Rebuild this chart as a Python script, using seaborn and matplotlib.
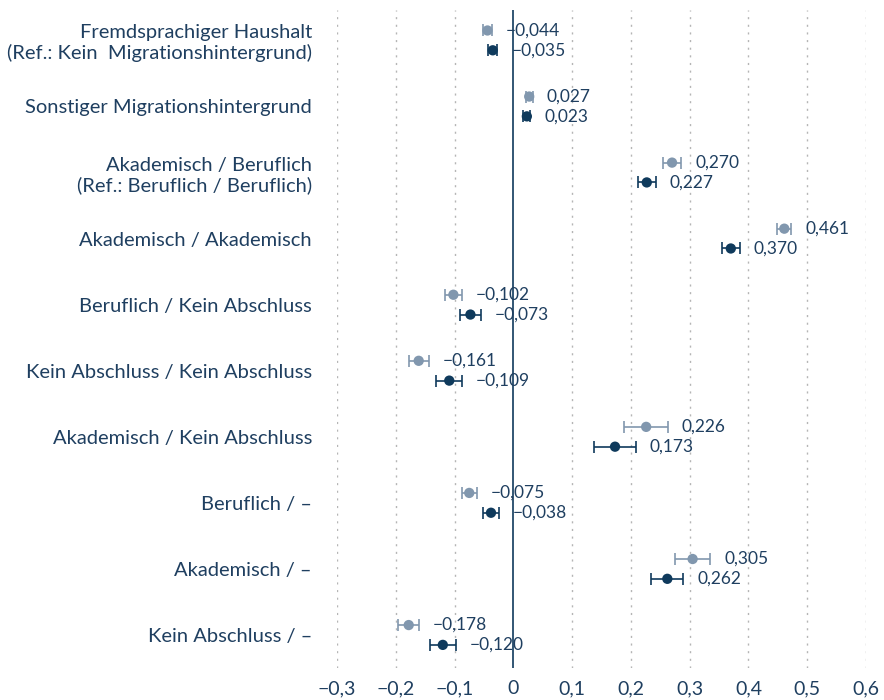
import numpy as np
import pandas as pd
import matplotlib
matplotlib.use("Agg")
import matplotlib.pyplot as plt
import seaborn as sns

categories = [
    "Fremdsprachiger Haushalt\n(Ref.: Kein  Migrationshintergrund)",
    "Sonstiger Migrationshintergrund",
    "Akademisch / Beruflich\n(Ref.: Beruflich / Beruflich)",
    "Akademisch / Akademisch",
    "Beruflich / Kein Abschluss",
    "Kein Abschluss / Kein Abschluss",
    "Akademisch / Kein Abschluss",
    "Beruflich / –",
    "Akademisch / –",
    "Kein Abschluss / –",
]
coef_m1 = [-0.044, 0.027, 0.270, 0.461, -0.102, -0.161, 0.226, -0.075, 0.305, -0.178]
err_m1 = [0.008, 0.006, 0.016, 0.012, 0.015, 0.017, 0.037, 0.013, 0.030, 0.018]
coef_m2 = [-0.035, 0.023, 0.227, 0.370, -0.073, -0.109, 0.173, -0.038, 0.262, -0.120]
err_m2 = [0.008, 0.006, 0.015, 0.015, 0.018, 0.022, 0.035, 0.014, 0.027, 0.022]
xticks = [-0.3, -0.2, -0.1, 0, 0.1, 0.2, 0.3, 0.4, 0.5, 0.6]

LIGHT = "#8197ae"
DARK = "#0f3a5c"
TEXT = "#1f3f60"


def fmt(v):
    s = f"{abs(v):.3f}".replace(".", ",")
    return ("\u2212" + s) if v < 0 else s


def fmt_tick(v):
    if abs(v) < 1e-9:
        return "0"
    s = f"{abs(v):.1f}".replace(".", ",")
    return ("\u2212" + s) if v < 0 else s


sns.set_theme(style="white")
plt.rcParams["font.family"] = ["Lato", "DejaVu Sans"]

rows = []
for i, cat in enumerate(categories):
    rows.append({"pos": i - 0.15, "coef": coef_m1[i], "err": err_m1[i], "model": "Modell 1"})
    rows.append({"pos": i + 0.15, "coef": coef_m2[i], "err": err_m2[i], "model": "Modell 2"})
df = pd.DataFrame(rows)
palette = {"Modell 1": LIGHT, "Modell 2": DARK}

fig = plt.figure(figsize=(8.84, 7.0), dpi=100)
ax = fig.add_axes([337 / 884, 32 / 700, (866 - 337) / 884, (690 - 32) / 700])

for x in xticks:
    if abs(x) < 1e-9:
        ax.axvline(0, color=DARK, lw=1.2, zorder=1)
    else:
        ax.axvline(x, color="#b5b5b5", lw=1.0, ls=(0, (1.5, 4)), zorder=0)

for model, sub in df.groupby("model"):
    ax.errorbar(sub["coef"], sub["pos"], xerr=sub["err"], fmt="none",
                ecolor=palette[model], elinewidth=1.2, capsize=4, capthick=1.2, zorder=2)

sns.scatterplot(data=df, x="coef", y="pos", hue="model", palette=palette,
                s=55, edgecolor="none", legend=False, ax=ax, zorder=3)

for _, r in df.iterrows():
    ax.annotate(fmt(r["coef"]), xy=(r["coef"] + r["err"], r["pos"]),
                xytext=(10, 0), textcoords="offset points", va="center", ha="left",
                fontsize=12.5, color=TEXT)

ax.set_xlim(-0.3, 0.6)
ax.set_ylim(9.5, -0.46)
ax.set_xticks(xticks)
ax.set_xticklabels([fmt_tick(v) for v in xticks])
ax.set_yticks(range(len(categories)))
ax.set_yticklabels(categories)
ax.tick_params(axis="x", length=0, labelsize=14, labelcolor=TEXT, pad=9)
ax.tick_params(axis="y", length=0, labelsize=14.5, labelcolor=TEXT, pad=18)
ax.set_xlabel("")
ax.set_ylabel("")
for sp in ax.spines.values():
    sp.set_visible(False)

fig.savefig("out.png", dpi=100)
